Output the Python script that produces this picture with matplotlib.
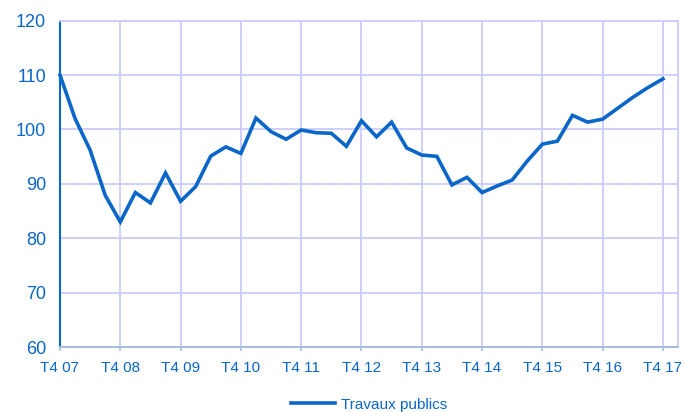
import matplotlib
matplotlib.use("Agg")
import matplotlib.pyplot as plt
from matplotlib.lines import Line2D

plt.rcParams['font.family'] = ['Liberation Sans', 'DejaVu Sans']

tick_labels = ["T4 07", "T4 08", "T4 09", "T4 10", "T4 11", "T4 12",
               "T4 13", "T4 14", "T4 15", "T4 16", "T4 17"]
series_name = "Travaux publics"
values = [110.0, 102.0, 96.2, 87.9, 83.0, 88.4, 86.5, 92.0,
          86.8, 89.5, 95.1, 96.8, 95.6, 102.1, 99.6, 98.2,
          99.9, 99.4, 99.3, 96.9, 101.6, 98.65, 101.35, 96.6,
          95.3, 95.05, 89.8, 91.2, 88.4, 89.6, 90.7, 94.2,
          97.3, 97.85, 102.6, 101.35, 101.9, 103.9, 105.9, 107.7,
          109.3]

blue = "#0a66c8"
grid_c = "#ccccff"
axis_c = "#a8bcdc"

fig = plt.figure(figsize=(6.85, 4.12), dpi=100)
ax = fig.add_axes([60/685, 1 - 347/412, (678-60)/685, (347-20.7)/412])

x = list(range(len(values)))
ax.plot(x, values, color=blue, lw=2.6, solid_joinstyle='miter', zorder=3, clip_on=False)

ax.set_xlim(0, 41)
ax.set_ylim(60, 120)
ax.set_yticks(range(60, 121, 10))
ax.set_xticks(range(0, 41, 4))
ax.set_xticklabels(tick_labels)
ax.grid(True, color=grid_c, lw=1.3, zorder=0)

for s in ['top', 'right']:
    ax.spines[s].set_color(grid_c)
    ax.spines[s].set_linewidth(1.3)
ax.spines['left'].set_color(blue)
ax.spines['left'].set_linewidth(1.5)
ax.spines['bottom'].set_color(axis_c)
ax.spines['bottom'].set_linewidth(1.5)

ax.tick_params(axis='y', length=0, pad=10, labelsize=13, labelcolor=blue)
ax.tick_params(axis='x', length=3, width=1.2, color=axis_c, pad=7,
               labelsize=11, labelcolor=blue)

handle = Line2D([], [], color=blue, lw=2.6)
fig.legend([handle], [series_name], loc='center', bbox_to_anchor=(369/685, 1 - 404.5/412),
           frameon=False, fontsize=11, labelcolor=blue, handlelength=2.9,
           handletextpad=0.4, borderpad=0)

fig.savefig("out.png", dpi=100)
